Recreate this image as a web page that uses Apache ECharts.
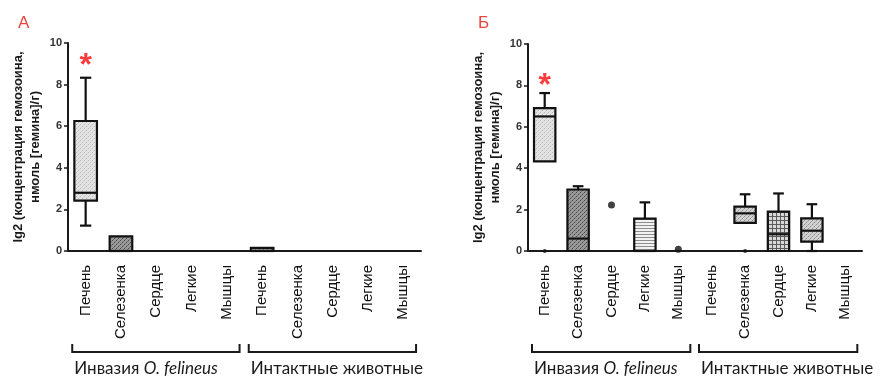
<!DOCTYPE html>
<html><head><meta charset="utf-8">
<script src="https://cdn.jsdelivr.net/npm/echarts@6/dist/echarts.min.js"></script>
<style>html,body{margin:0;padding:0;background:#fff}#c{width:882px;height:380px}</style>
</head><body><div id="c"></div>
<script>
// ---------- data ----------
const categories = ['Печень','Селезенка','Сердце','Легкие','Мышцы','Печень','Селезенка','Сердце','Легкие','Мышцы'];
const groupLabels = ['Инвазия ', 'O. felineus', 'Интактные животные'];
const panelLetters = ['А', 'Б'];
const yTicks = [0, 2, 4, 6, 8, 10];
const yNameLines = ['lg2 (концентрация гемозоина,', 'нмоль [гемина]/г)'];
// boxes: [categoryIndex, min, q1, median, q3, max]
const boxesA = [
  [0, 1.22, 2.42, 2.8, 6.25, 8.33],
  [1, 0, 0, 0, 0.7, 0.7],
  [5, 0, 0, 0, 0.15, 0.15]
];
const boxesB = [
  [0, 4.33, 4.33, 6.5, 6.9, 7.63],
  [1, 0, 0, 0.6, 2.97, 3.13],
  [3, 0, 0, 0, 1.56, 2.35],
  [6, 1.36, 1.36, 1.82, 2.14, 2.74],
  [7, 0, 0, 0.81, 1.9, 2.78],
  [8, 0, 0.45, 0.98, 1.58, 2.26]
];
const pointsB = [[2, 2.22], [4, 0.08]];
const zeroPointsB = [[0, 0], [6, 0]];
const starsA = [[0, 9.2]];
const starsB = [[0, 8.3]];
// fill pattern per box (style, by order)
const patternsA = ['light', 'dark', 'dark'];
const patternsB = ['light', 'dark', 'hlines', 'medium', 'grid', 'medium'];

// ---------- patterns ----------
function makePattern(kind) {
  const c = document.createElement('canvas');
  const s = 4; c.width = s; c.height = s;
  const g = c.getContext('2d');
  const px = (x, y, col) => { g.fillStyle = col; g.fillRect(x, y, 1, 1); };
  if (kind === 'light') {
    g.fillStyle = '#e4e4e4'; g.fillRect(0, 0, s, s);
    px(0, 0, '#b8b8b8'); px(2, 2, '#b8b8b8'); px(1, 3, '#cfcfcf'); px(3, 1, '#cfcfcf');
  } else if (kind === 'dark') {
    g.fillStyle = '#999'; g.fillRect(0, 0, s, s);
    px(0, 0, '#4a4a4a'); px(2, 2, '#4a4a4a'); px(1, 3, '#707070'); px(3, 1, '#707070');
  } else if (kind === 'medium') {
    g.fillStyle = '#d2d2d2'; g.fillRect(0, 0, s, s);
    px(0, 0, '#8a8a8a'); px(2, 2, '#8a8a8a'); px(1, 3, '#aaa'); px(3, 1, '#aaa');
  } else if (kind === 'hlines') {
    c.height = 3;
    g.fillStyle = '#f2f2f2'; g.fillRect(0, 0, 4, 3);
    g.fillStyle = '#8c8c8c'; g.fillRect(0, 0, 4, 1);
  } else if (kind === 'grid') {
    g.fillStyle = '#d8d8d8'; g.fillRect(0, 0, s, s);
    g.fillStyle = '#5a5a5a'; g.fillRect(0, 0, s, 1); g.fillRect(0, 0, 1, s);
  }
  return { image: c, repeat: 'repeat' };
}

function boxRenderer(patterns) {
  return function (params, api) {
    const x = api.value(0);
    const pMin = api.coord([x, api.value(1)]);
    const pQ1 = api.coord([x, api.value(2)]);
    const pMed = api.coord([x, api.value(3)]);
    const pQ3 = api.coord([x, api.value(4)]);
    const pMax = api.coord([x, api.value(5)]);
    const band = api.size([1, 0])[0];
    const w = band * 0.64, cap = w * 0.5, cx = pQ1[0];
    const stroke = { stroke: '#111', lineWidth: 2.2 };
    const ch = [];
    if (pMax[1] < pQ3[1] - 0.5) {
      ch.push({ type: 'line', shape: { x1: cx, y1: pQ3[1], x2: cx, y2: pMax[1] }, style: stroke });
      ch.push({ type: 'line', shape: { x1: cx - cap / 2, y1: pMax[1], x2: cx + cap / 2, y2: pMax[1] }, style: stroke });
    }
    if (pMin[1] > pQ1[1] + 0.5) {
      ch.push({ type: 'line', shape: { x1: cx, y1: pQ1[1], x2: cx, y2: pMin[1] }, style: stroke });
      ch.push({ type: 'line', shape: { x1: cx - cap / 2, y1: pMin[1], x2: cx + cap / 2, y2: pMin[1] }, style: stroke });
    }
    ch.push({ type: 'rect', shape: { x: cx - w / 2, y: pQ3[1], width: w, height: pQ1[1] - pQ3[1] },
      style: { fill: makePattern(patterns[params.dataIndex]), stroke: '#111', lineWidth: 2.2 } });
    ch.push({ type: 'line', shape: { x1: cx - w / 2, y1: pMed[1], x2: cx + w / 2, y2: pMed[1] }, style: stroke });
    return { type: 'group', children: ch };
  };
}

const chart = echarts.init(document.getElementById('c'), null, { renderer: 'canvas' });
const grids = [
  { left: 68, top: 43, width: 353, height: 208 },
  { left: 528, top: 44, width: 334, height: 207 }
];
function xAxis(i) {
  return {
    type: 'category', gridIndex: i, data: categories, boundaryGap: true,
    axisLine: { lineStyle: { color: '#1a1a1a', width: 2 } },
    axisTick: { alignWithLabel: true, length: 4, lineStyle: { color: '#1a1a1a', width: 1.5 } },
    axisLabel: { rotate: 90, margin: 14, interval: 0, fontFamily: 'Liberation Sans', fontSize: 15, color: '#111' },
    splitLine: { show: false }
  };
}
function yAxis(i) {
  return {
    type: 'value', gridIndex: i, min: yTicks[0], max: yTicks[yTicks.length - 1], interval: yTicks[1] - yTicks[0],
    name: yNameLines.join('\n'), nameLocation: 'middle', nameGap: 24, nameRotate: 90,
    nameTextStyle: { fontFamily: 'Liberation Sans', fontWeight: 'bold', fontSize: 13, color: '#1a1a1a', lineHeight: 17 },
    axisLine: { show: true, lineStyle: { color: '#1a1a1a', width: 2 } },
    axisTick: { show: true, length: 4, lineStyle: { color: '#1a1a1a', width: 1.5 } },
    axisLabel: { margin: 6, fontFamily: 'Liberation Sans', fontWeight: 'bold', fontSize: 11, color: '#333' },
    splitLine: { show: false }
  };
}
function starSeries(i, data) {
  return {
    type: 'scatter', xAxisIndex: i, yAxisIndex: i, data: data, symbolSize: 1,
    itemStyle: { color: 'rgba(0,0,0,0)' }, silent: true,
    label: { show: true, position: 'inside', formatter: '*', fontFamily: 'Liberation Sans', fontWeight: 'bold', fontSize: 32, color: '#ff0a0a', offset: [0, 7] }
  };
}
chart.setOption({
  animation: false,
  grid: grids,
  xAxis: [xAxis(0), xAxis(1)],
  yAxis: [yAxis(0), yAxis(1)],
  series: [
    { type: 'custom', xAxisIndex: 0, yAxisIndex: 0, data: boxesA, renderItem: boxRenderer(patternsA), encode: { x: 0, y: [1, 2, 3, 4, 5] } },
    { type: 'custom', xAxisIndex: 1, yAxisIndex: 1, data: boxesB, renderItem: boxRenderer(patternsB), encode: { x: 0, y: [1, 2, 3, 4, 5] } },
    { type: 'scatter', xAxisIndex: 1, yAxisIndex: 1, data: pointsB, symbolSize: 7, itemStyle: { color: '#111' } },
    { type: 'scatter', xAxisIndex: 1, yAxisIndex: 1, data: zeroPointsB, symbolSize: 4, itemStyle: { color: '#111' } },
    starSeries(0, starsA),
    starSeries(1, starsB)
  ]
});

// ---------- brackets & group labels (placed from axis scale) ----------
function panelGraphics(i) {
  const px = k => chart.convertToPixel({ xAxisIndex: i }, k);
  const band = px(1) - px(0);
  const y0 = chart.convertToPixel({ yAxisIndex: i }, 0);
  const yTop = y0 + 93, yBot = y0 + 101;
  const out = [];
  [[0, 4], [5, 9]].forEach((r, j) => {
    const x1 = px(r[0]) - 0.38 * band, x2 = px(r[1]) + 0.36 * band;
    out.push({ type: 'polyline', shape: { points: [[x1, yTop], [x1, yBot], [x2, yBot], [x2, yTop]] },
      style: { stroke: '#1a1a1a', lineWidth: 2, fill: null } });
    out.push({ type: 'text', x: x1 + 2, y: y0 + 118,
      style: j === 0
        ? { text: '{n|' + groupLabels[0] + '}{i|' + groupLabels[1] + '}', verticalAlign: 'middle', align: 'left',
            rich: { n: { fontFamily: 'Lato', fontSize: 17, fill: '#1a1a1a' }, i: { fontFamily: 'Lato', fontStyle: 'italic', fontSize: 17, fill: '#1a1a1a' } } }
        : { text: groupLabels[2], fontFamily: 'Lato', fontSize: 17, fill: '#1a1a1a', verticalAlign: 'middle', align: 'left' } });
  });
  out.push({ type: 'text', x: grids[i].left - 50, y: 23,
    style: { text: panelLetters[i], fontFamily: 'Liberation Sans', fontSize: 17, fill: '#e8463c', verticalAlign: 'middle', align: 'left' } });
  return out;
}
chart.setOption({ graphic: panelGraphics(0).concat(panelGraphics(1)) });
</script></body></html>
